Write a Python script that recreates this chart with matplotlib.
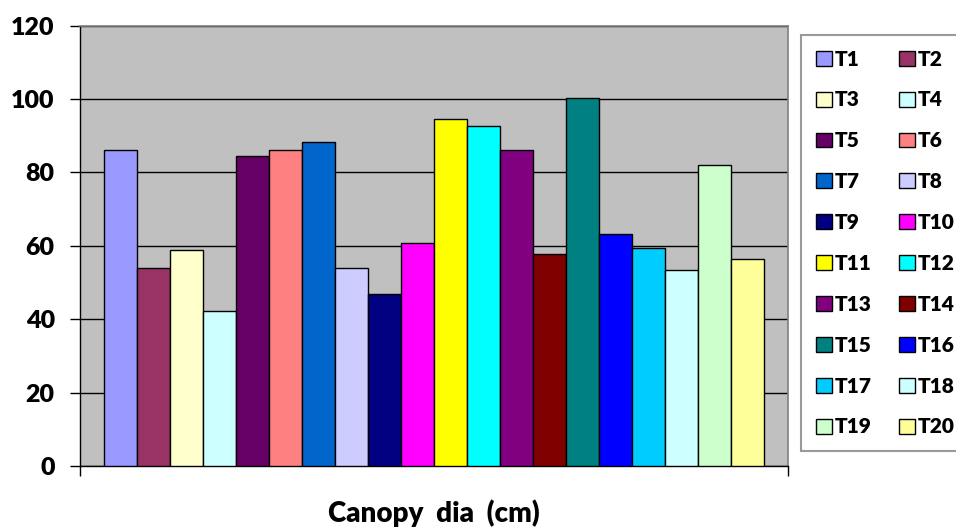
import matplotlib
matplotlib.use("Agg")
import matplotlib.pyplot as plt

plt.rcParams['font.family'] = ['Lato', 'DejaVu Sans']
plt.rcParams['font.weight'] = 'heavy'

# canopy diameter per treatment (cm)
treatments = ["T1", "T2", "T3", "T4", "T5", "T6", "T7", "T8", "T9", "T10",
              "T11", "T12", "T13", "T14", "T15", "T16", "T17", "T18", "T19", "T20"]
canopy_dia = [86.0, 54.0, 59.0, 42.2, 84.6, 86.2, 88.3, 53.9, 47.0, 60.8,
              94.6, 92.8, 86.2, 57.7, 100.4, 63.3, 59.5, 53.3, 81.9, 56.3]
bar_colors = ["#9999FF", "#993366", "#FFFFCC", "#CCFFFF", "#660066",
              "#FF8080", "#0066CC", "#CCCCFF", "#000080", "#FF00FF",
              "#FFFF00", "#00FFFF", "#800080", "#800000", "#008080",
              "#0000FF", "#00CCFF", "#CCFFFF", "#CCFFCC", "#FFFF99"]
y_ticks = [0, 20, 40, 60, 80, 100, 120]

fig = plt.figure(figsize=(9.56, 5.29), dpi=100)
ax = fig.add_axes([80 / 956, 63 / 529, 708 / 956, 440.3 / 529])
ax.set_facecolor("#C0C0C0")

# one bar per treatment, all in a single category group
bars = []
for i, (name, val, col) in enumerate(zip(treatments, canopy_dia, bar_colors)):
    b = ax.bar(i, val, width=1.0, color=col, edgecolor="black", linewidth=1.0,
               label=name, zorder=3)
    bars.append(b)

ax.set_xlim(-1.227, 20.237)
ax.set_ylim(0, 120)
ax.set_yticks(y_ticks)
ax.set_yticklabels([str(t) for t in y_ticks], fontsize=18, fontweight="heavy")
ax.tick_params(axis="y", direction="out", length=7.2, width=1, pad=11)
ax.set_xticks([-1.227, 20.237])
ax.set_xticklabels([])
ax.tick_params(axis="x", direction="out", length=7.2, width=1)

ax.yaxis.grid(True, color="black", linewidth=1, zorder=0)
ax.set_axisbelow(True)

for side in ("top", "right"):
    ax.spines[side].set_color("#808080")
    ax.spines[side].set_linewidth(1.2)
for side in ("left", "bottom"):
    ax.spines[side].set_color("black")
    ax.spines[side].set_linewidth(1)

ax.set_xlabel("Canopy  dia  (cm)", fontsize=20, fontweight="heavy", labelpad=13)

# legend reads across rows: T1 T2 / T3 T4 / ...
order = list(range(0, 20, 2)) + list(range(1, 20, 2))
leg = fig.legend(handles=[bars[i] for i in order],
                 labels=[treatments[i] for i in order], ncol=2,
                 loc="upper left", bbox_to_anchor=(801 / 956, 1 - 35 / 529),
                 borderaxespad=0, fontsize=15, frameon=True, fancybox=False,
                 handlelength=0.77, handleheight=0.72, handletextpad=0.14,
                 labelspacing=1.05, columnspacing=1.3, borderpad=0.7)
leg.get_frame().set_edgecolor("#808080")
leg.get_frame().set_linewidth(1.5)
for t in leg.get_texts():
    t.set_fontweight("heavy")

fig.savefig("out.png", dpi=100)
